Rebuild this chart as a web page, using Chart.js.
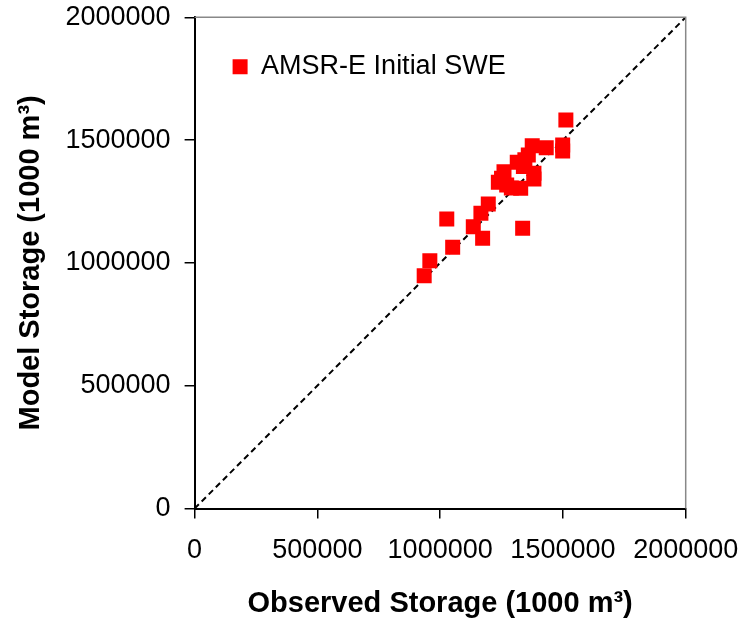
<!DOCTYPE html>
<html>
<head>
    <title>Model vs Observed Storage</title>
    <style>
        body { margin: 0; background: #fff; }
        #chartBox { width: 740px; height: 627px; }
    </style>
    <script src="https://cdn.jsdelivr.net/npm/chart.js"></script>
</head>
<body>
    <div id="chartBox">
        <canvas id="storageChart"></canvas>
    </div>

    <script>
        // observed vs model storage (1000 m3)
        const observed = [935000, 958000, 1027000, 1051000, 1135000, 1166000, 1173000, 1196000,
            1237000, 1250000, 1260000, 1271000, 1290000, 1314000, 1328000, 1336000, 1339000,
            1345000, 1359000, 1375000, 1382000, 1382000, 1432000, 1499000, 1499000, 1512000];
        const modeled = [948000, 1009000, 1179000, 1064000, 1147000, 1202000, 1100000, 1240000,
            1328000, 1345000, 1371000, 1317000, 1305000, 1410000, 1304000, 1141000, 1392000,
            1420000, 1439000, 1477000, 1342000, 1365000, 1469000, 1480000, 1456000, 1582000];
        const oneToOne = [0, 2000000];
        const axisTicks = [0, 500000, 1000000, 1500000, 2000000];

        const fontFamily = 'Arial, "Liberation Sans", sans-serif';

        const points = observed.map((x, i) => ({ x: x, y: modeled[i] }));
        const line = oneToOne.map(v => ({ x: v, y: v }));

        // grey frame on top and right of the plot area
        const frame = {
            id: 'frame',
            afterDatasetsDraw(chart) {
                const a = chart.chartArea, ctx = chart.ctx;
                ctx.save();
                ctx.strokeStyle = '#888888';
                ctx.lineWidth = 1.5;
                ctx.beginPath();
                ctx.moveTo(a.left, a.top);
                ctx.lineTo(a.right, a.top);
                ctx.lineTo(a.right, a.bottom);
                ctx.stroke();
                ctx.restore();
            }
        };

        new Chart(document.getElementById('storageChart'), {
            type: 'scatter',
            data: {
                datasets: [{
                    label: 'AMSR-E Initial SWE',
                    data: points,
                    pointStyle: 'rect',
                    pointRadius: 10.6,
                    pointHoverRadius: 10.6,
                    pointBorderWidth: 0,
                    backgroundColor: '#ff0000',
                    borderColor: '#ff0000',
                    borderWidth: 0,
                    order: 1
                }, {
                    label: '1:1',
                    type: 'line',
                    data: line,
                    borderColor: '#000000',
                    borderWidth: 2,
                    borderDash: [6, 4],
                    pointRadius: 0,
                    fill: false,
                    order: 2
                }]
            },
            options: {
                responsive: true,
                maintainAspectRatio: false,
                animation: false,
                layout: { padding: { top: 17.3, right: 54.3, left: 0, bottom: 0 } },
                plugins: {
                    legend: {
                        position: 'chartArea',
                        align: 'start',
                        title: { display: true, text: '', padding: { top: 7, bottom: 7 }, font: { size: 1 } },
                        labels: {
                            filter: item => item.datasetIndex === 0,
                            boxWidth: 15,
                            boxHeight: 15,
                            padding: 38,
                            color: '#000',
                            font: { family: fontFamily, size: 27 }
                        }
                    },
                    tooltip: { enabled: false }
                },
                scales: {
                    x: {
                        type: 'linear',
                        min: 0,
                        max: 2000000,
                        afterBuildTicks: s => { s.ticks = axisTicks.map(v => ({ value: v })); },
                        afterFit: s => { s.height = 118.5; s.paddingLeft = 0; s.paddingRight = 0; },
                        grid: { drawOnChartArea: false, drawTicks: true, tickLength: 10, color: '#000', lineWidth: 1.5 },
                        border: { color: '#000', width: 2 },
                        ticks: {
                            color: '#000',
                            padding: 16,
                            maxRotation: 0,
                            font: { family: fontFamily, size: 27 },
                            callback: v => String(v)
                        },
                        title: {
                            display: true,
                            text: 'Observed Storage (1000 m³)',
                            color: '#000',
                            padding: { top: 0, bottom: 6 },
                            font: { family: fontFamily, size: 29, weight: 'bold' }
                        }
                    },
                    y: {
                        type: 'linear',
                        min: 0,
                        max: 2000000,
                        afterBuildTicks: s => { s.ticks = axisTicks.map(v => ({ value: v })); },
                        afterFit: s => { s.width = 194.6; s.paddingTop = 0; s.paddingBottom = 0; },
                        grid: { drawOnChartArea: false, drawTicks: true, tickLength: 10, color: '#000', lineWidth: 1.5 },
                        border: { color: '#000', width: 2 },
                        ticks: {
                            color: '#000',
                            padding: 14,
                            font: { family: fontFamily, size: 27 },
                            callback: v => String(v)
                        },
                        title: {
                            display: true,
                            text: 'Model Storage (1000 m³)',
                            color: '#000',
                            padding: { top: 14, bottom: 10 },
                            font: { family: fontFamily, size: 29, weight: 'bold' }
                        }
                    }
                }
            },
            plugins: [frame]
        });
    </script>
</body>
</html>
